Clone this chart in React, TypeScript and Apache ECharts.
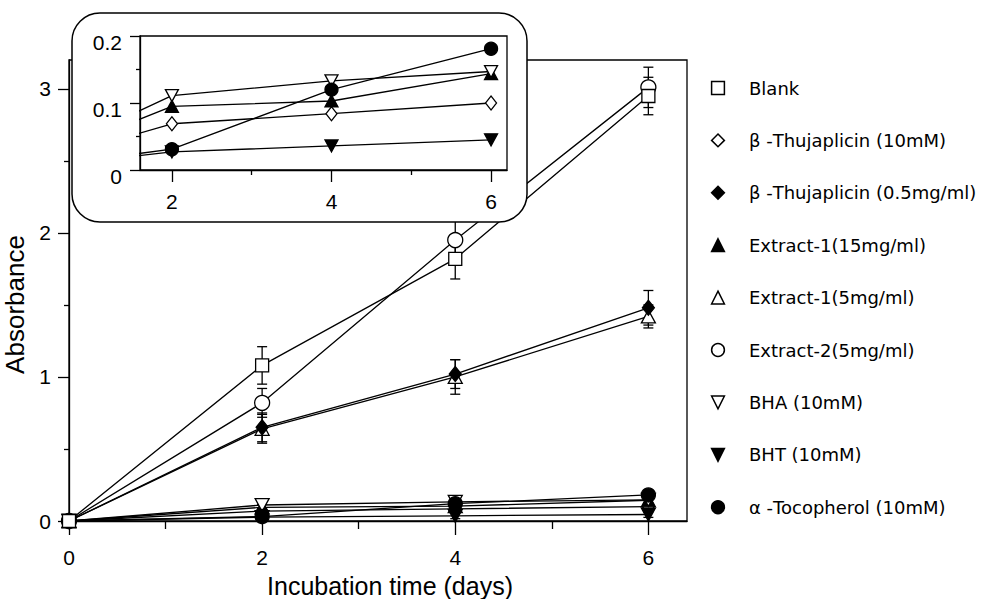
import React, { useEffect, useRef } from "react";
import * as echarts from "echarts";

// ---- data ----
const days = [0, 2, 4, 6];

const blank = [0, 1.08, 1.82, 2.95];
const blankErr = [0, 0.13, 0.14, 0.13];
const thuja10 = [0, 0.069, 0.084, 0.1];
const thuja10Err = [0, 0.02, 0.02, 0.02];
const thuja05 = [0, 0.65, 1.02, 1.48];
const thuja05Err = [0, 0.1, 0.1, 0.12];
const ext1_15 = [0, 0.095, 0.103, 0.144];
const ext1_15Err = [0, 0.02, 0.02, 0.02];
const ext1_5 = [0, 0.64, 1.0, 1.42];
const ext1_5Err = [0, 0.1, 0.12, 0.08];
const ext2_5 = [0, 0.82, 1.95, 3.01];
const ext2_5Err = [0, 0.1, 0.13, 0.14];
const bha = [0, 0.111, 0.133, 0.147];
const bhaErr = [0, 0.04, 0.04, 0.03];
const bht = [0, 0.027, 0.036, 0.045];
const bhtErr = [0, 0.02, 0.02, 0.02];
const toco = [0, 0.031, 0.12, 0.181];
const tocoErr = [0, 0.02, 0.02, 0.02];

const names = [
  "Blank",
  "β -Thujaplicin (10mM)",
  "β -Thujaplicin (0.5mg/ml)",
  "Extract-1(15mg/ml)",
  "Extract-1(5mg/ml)",
  "Extract-2(5mg/ml)",
  "BHA (10mM)",
  "BHT (10mM)",
  "α -Tocopherol (10mM)",
];
const values = [blank, thuja10, thuja05, ext1_15, ext1_5, ext2_5, bha, bht, toco];
const errors = [blankErr, thuja10Err, thuja05Err, ext1_15Err, ext1_5Err, ext2_5Err, bhaErr, bhtErr, tocoErr];
// series shown in the inset (low absorbance group)
const insetSeries = ["β -Thujaplicin (10mM)", "Extract-1(15mg/ml)", "BHA (10mM)", "BHT (10mM)", "α -Tocopherol (10mM)"];

// tick labels
const xMajor = [0, 2, 4, 6];
const xMinor = [1, 3, 5];
const yMajor = [0, 1, 2, 3];
const yMinor = [0.5, 1.5, 2.5];
const inXMajor = [2, 4, 6];
const inXMinor = [3, 5];
const inYMajor = [0, 0.1, 0.2];
const inYMinor = [0.05, 0.15];

// ---- styles ----
const DOWN = "path://M0,0L20,0L10,18Z";
const markers: Record<string, { symbol: string; size: number | number[]; fill: string }> = {
  "Blank": { symbol: "rect", size: 13, fill: "#fff" },
  "β -Thujaplicin (10mM)": { symbol: "diamond", size: [12, 15], fill: "#fff" },
  "β -Thujaplicin (0.5mg/ml)": { symbol: "diamond", size: [12, 15], fill: "#000" },
  "Extract-1(15mg/ml)": { symbol: "triangle", size: [14, 13], fill: "#000" },
  "Extract-1(5mg/ml)": { symbol: "triangle", size: [14, 13], fill: "#fff" },
  "Extract-2(5mg/ml)": { symbol: "circle", size: 15, fill: "#fff" },
  "BHA (10mM)": { symbol: DOWN, size: [14, 13], fill: "#fff" },
  "BHT (10mM)": { symbol: DOWN, size: [14, 13], fill: "#000" },
  "α -Tocopherol (10mM)": { symbol: "circle", size: 14, fill: "#000" },
};

const FONT = '"Liberation Sans", Arial, Helvetica, sans-serif';
const LEGEND_FONT = '"DejaVu Sans", sans-serif';
const BLACK = "#000";

export default function App() {
  const ref = useRef<HTMLDivElement>(null);
  useEffect(() => {
    document.body.style.margin = "0";
    const chart = echarts.init(ref.current!, undefined, { renderer: "svg" });

    const tickLine = { color: BLACK, width: 1.3 };
    const axisBase = (extra: any) => ({
      type: "value",
      splitLine: { show: false },
      axisLine: { show: true, onZero: false, lineStyle: tickLine },
      ...extra,
    });

    // drawing order: Extract-1(5) below β-Thujaplicin(0.5); Blank last so its marker sits on top at origin
    const order = [1, 4, 2, 3, 5, 6, 7, 8, 0];
    const mainSeries = order.map((i) => {
      const m = markers[names[i]];
      return {
        type: "line",
        name: names[i],
        xAxisIndex: 0,
        yAxisIndex: 0,
        z: 3,
        data: days.map((d, k) => [d, values[i][k]]),
        symbol: m.symbol,
        symbolSize: m.size,
        showSymbol: true,
        lineStyle: { color: BLACK, width: 1.3 },
        itemStyle: { color: m.fill, borderColor: BLACK, borderWidth: 1.3 },
        emphasis: { disabled: true },
      };
    });

    const insetLines = insetSeries.map((n) => {
      const i = names.indexOf(n);
      const m = markers[n];
      const sz = Array.isArray(m.size) ? m.size.map((v) => v - 1) : m.size - 1;
      return {
        type: "line",
        name: n,
        xAxisIndex: 2,
        yAxisIndex: 2,
        z: 21,
        clip: true,
        data: days.map((d, k) => [d, values[i][k]]),
        symbol: m.symbol,
        symbolSize: sz,
        showSymbol: true,
        lineStyle: { color: BLACK, width: 1.3 },
        itemStyle: { color: m.fill, borderColor: BLACK, borderWidth: 1.3 },
        emphasis: { disabled: true },
      };
    });

    const errData: number[][] = [];
    names.forEach((_, i) => {
      days.forEach((d, k) => {
        if (errors[i][k] > 0) errData.push([d, values[i][k], errors[i][k]]);
      });
    });

    const errSeries = {
      type: "custom",
      xAxisIndex: 0,
      yAxisIndex: 0,
      z: 2,
      data: errData,
      encode: { x: 0, y: 1 },
      renderItem: (params: any, api: any) => {
        const x = api.value(0);
        const y = api.value(1);
        const e = api.value(2);
        const top = api.coord([x, y + e]);
        const bot = api.coord([x, y - e]);
        const w = 5;
        const st = { stroke: BLACK, lineWidth: 1.3 };
        return {
          type: "group",
          children: [
            { type: "line", shape: { x1: top[0], y1: top[1], x2: bot[0], y2: bot[1] }, style: st },
            { type: "line", shape: { x1: top[0] - w, y1: top[1], x2: top[0] + w, y2: top[1] }, style: st },
            { type: "line", shape: { x1: bot[0] - w, y1: bot[1], x2: bot[0] + w, y2: bot[1] }, style: st },
          ],
        };
      },
    };

    const mainGrid = { left: 69, top: 60, right: 308, bottom: 78, outerBoundsMode: "none", containLabel: false };
    const insetGrid = { left: 140, top: 36, right: 488, bottom: 429, outerBoundsMode: "none", containLabel: false };

    const option: any = {
      animation: false,
      backgroundColor: "#fff",
      textStyle: { fontFamily: FONT, color: BLACK },
      grid: [
        { ...mainGrid, show: true, borderColor: BLACK, borderWidth: 1.3, backgroundColor: "transparent" },
        { ...mainGrid, show: false },
        { ...insetGrid, show: true, borderColor: BLACK, borderWidth: 1.3, backgroundColor: "transparent", z: 20 },
        { ...insetGrid, show: false, z: 20 },
      ],
      xAxis: [
        axisBase({
          gridIndex: 0,
          position: "bottom",
          min: 0,
          max: 6.4,
          axisTick: { show: true, length: 14, customValues: xMajor, lineStyle: tickLine },
          axisLabel: { customValues: xMajor, fontSize: 21, color: BLACK, margin: 26, fontFamily: FONT },
          name: "Incubation time (days)",
          nameLocation: "middle",
          nameGap: 50,
          nameTextStyle: { fontSize: 25, lineHeight: 26, color: BLACK, fontFamily: FONT, padding: [0, 0, 0, 24] },
        }),
        axisBase({
          gridIndex: 1,
          position: "bottom",
          min: 0,
          max: 6.4,
          axisLine: { show: false },
          axisTick: { show: true, length: 8, customValues: xMinor, lineStyle: tickLine },
          axisLabel: { show: false },
        }),
        axisBase({
          gridIndex: 2,
          position: "bottom",
          min: 1.6,
          max: 6.2,
          z: 20,
          axisTick: { show: true, length: 12, customValues: inXMajor, lineStyle: tickLine },
          axisLabel: { customValues: inXMajor, fontSize: 21, color: BLACK, margin: 21, fontFamily: FONT },
        }),
        axisBase({
          gridIndex: 3,
          position: "bottom",
          min: 1.6,
          max: 6.2,
          z: 20,
          axisLine: { show: false },
          axisTick: { show: true, length: 5, customValues: inXMinor, lineStyle: tickLine },
          axisLabel: { show: false },
        }),
      ],
      yAxis: [
        axisBase({
          gridIndex: 0,
          position: "left",
          min: 0,
          max: 3.2,
          axisTick: { show: true, length: 11, customValues: yMajor, lineStyle: tickLine },
          axisLabel: { customValues: yMajor, fontSize: 21, color: BLACK, margin: 18, fontFamily: FONT },
          name: "Absorbance",
          nameLocation: "middle",
          nameGap: 31,
          nameTextStyle: { fontSize: 26, color: BLACK, fontFamily: FONT, padding: [0, 28, 0, 0] },
        }),
        axisBase({
          gridIndex: 1,
          position: "left",
          min: 0,
          max: 3.2,
          axisLine: { show: false },
          axisTick: { show: true, length: 5, customValues: yMinor, lineStyle: tickLine },
          axisLabel: { show: false },
        }),
        axisBase({
          gridIndex: 2,
          position: "left",
          min: 0,
          max: 0.2,
          z: 20,
          axisTick: { show: true, length: 10, customValues: inYMajor, lineStyle: tickLine },
          axisLabel: {
            customValues: inYMajor,
            fontSize: 21,
            color: BLACK,
            margin: 18,
            fontFamily: FONT,
            formatter: "{a|{value}}",
            rich: { a: { fontSize: 21, fontFamily: FONT, color: BLACK, padding: [12, 0, 0, 0] } },
          },
        }),
        axisBase({
          gridIndex: 3,
          position: "left",
          min: 0,
          max: 0.2,
          z: 20,
          axisLine: { show: false },
          axisTick: { show: true, length: 4, customValues: inYMinor, lineStyle: tickLine },
          axisLabel: { show: false },
        }),
      ],
      legend: {
        orient: "vertical",
        left: 686,
        top: 73,
        itemWidth: 52,
        itemHeight: 16,
        itemGap: 32.4,
        selectedMode: false,
        lineStyle: { opacity: 0 },
        itemStyle: { borderColor: BLACK, borderWidth: 1.5 },
        textStyle: { fontSize: 18, color: BLACK, fontFamily: LEGEND_FONT, lineHeight: 20 },
        data: names.map((n) => ({ name: n, itemStyle: { color: markers[n].fill, borderColor: BLACK, borderWidth: 1.5 } })),
      },
      graphic: [
        {
          type: "rect",
          z: 10,
          shape: { x: 72, y: 13, width: 455, height: 209, r: 28 },
          style: { fill: "#fff", stroke: BLACK, lineWidth: 1.5 },
          silent: true,
        },
      ],
      series: [errSeries, ...mainSeries, ...insetLines],
    };

    chart.setOption(option);
    return () => chart.dispose();
  }, []);

  return <div ref={ref} style={{ width: 995, height: 599 }} />;
}
